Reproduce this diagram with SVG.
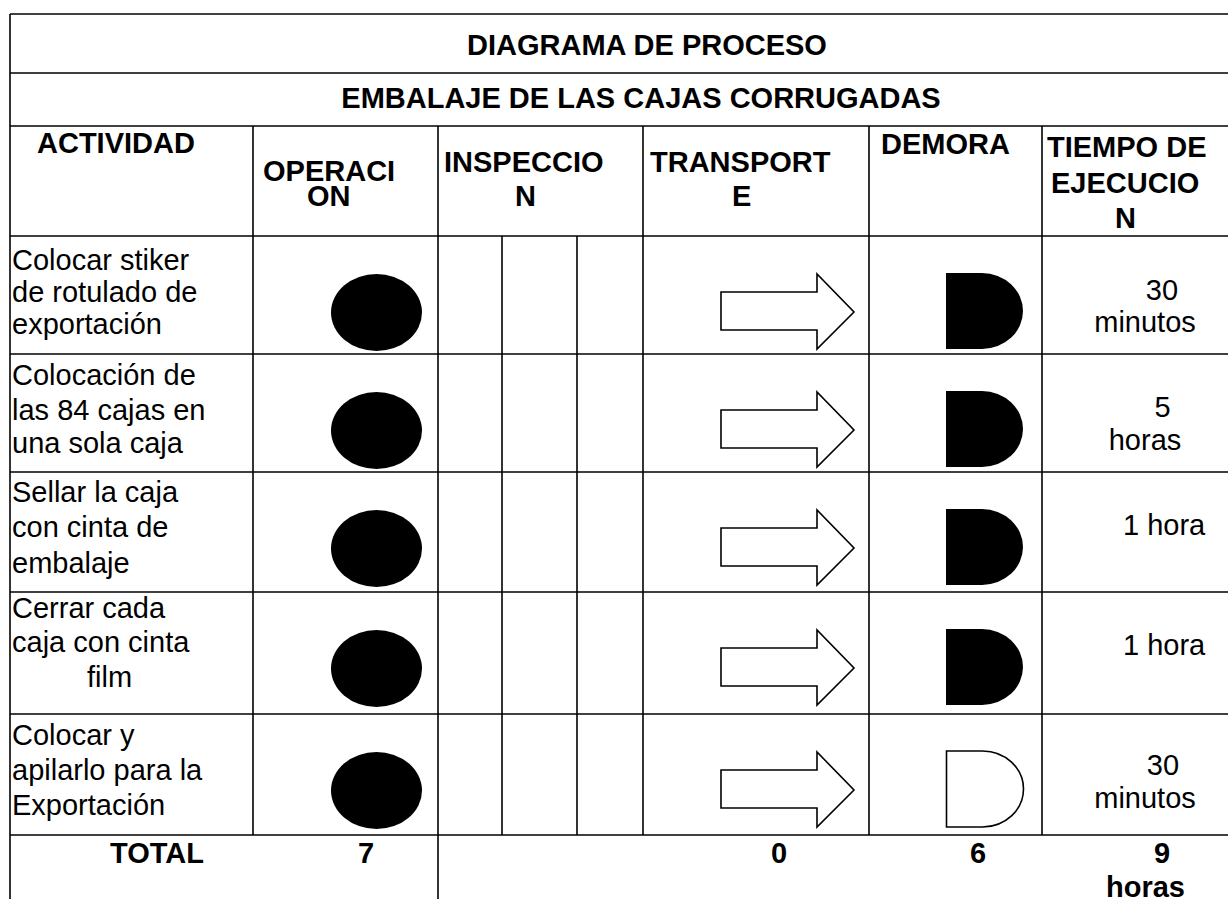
<svg xmlns="http://www.w3.org/2000/svg" width="1228" height="899" viewBox="0 0 1228 899">
<style>
  .ln { stroke:#000; stroke-width:1.6; fill:none; }
  .t { font-family:"Liberation Sans", Arial, sans-serif; font-size:29px; fill:#000; }
  .b { font-family:"Liberation Sans", Arial, sans-serif; font-size:29px; font-weight:bold; fill:#000; }
  .op { fill:#000; }
  .tr { fill:#fff; stroke:#000; stroke-width:1.6; stroke-linejoin:miter; }
  .dm { fill:#000; }
  .dmo { fill:#fff; stroke:#000; stroke-width:1.6; }
</style>
<defs>
  <ellipse id="opShape" cx="0" cy="0" rx="45.5" ry="38.5"/>
  <path id="trShape" d="M0,56 H96 V38 L133,76 L96,113 V94 H0 Z"/>
  <path id="dmShape" d="M0,37 H36 A41,38 0 0 1 36,113 H0 Z"/>
</defs>
<rect x="0" y="0" width="1228" height="899" fill="#fff"/>

<g id="grid">
  <line class="ln" x1="10" y1="14" x2="1228" y2="14"/>
  <line class="ln" x1="10" y1="73" x2="1228" y2="73"/>
  <line class="ln" x1="10" y1="126" x2="1228" y2="126"/>
  <line class="ln" x1="10" y1="236" x2="1228" y2="236"/>
  <line class="ln" x1="10" y1="354" x2="1228" y2="354"/>
  <line class="ln" x1="10" y1="472" x2="1228" y2="472"/>
  <line class="ln" x1="10" y1="592" x2="1228" y2="592"/>
  <line class="ln" x1="10" y1="714" x2="1228" y2="714"/>
  <line class="ln" x1="10" y1="835" x2="1228" y2="835"/>
  <line class="ln" x1="10" y1="14" x2="10" y2="899"/>
  <line class="ln" x1="253" y1="126" x2="253" y2="835"/>
  <line class="ln" x1="438" y1="126" x2="438" y2="899"/>
  <line class="ln" x1="502" y1="236" x2="502" y2="835"/>
  <line class="ln" x1="577" y1="236" x2="577" y2="835"/>
  <line class="ln" x1="643" y1="126" x2="643" y2="835"/>
  <line class="ln" x1="869" y1="126" x2="869" y2="835"/>
  <line class="ln" x1="1042" y1="126" x2="1042" y2="835"/>
</g>

<g id="header">
  <text class="b" x="647" y="55" text-anchor="middle">DIAGRAMA DE PROCESO</text>
  <text class="b" x="641" y="108" text-anchor="middle">EMBALAJE DE LAS CAJAS CORRUGADAS</text>
  <text class="b" x="37" y="153">ACTIVIDAD</text>
  <text class="b" x="263" y="181">OPERACI</text>
  <text class="b" x="307" y="206">ON</text>
  <text class="b" x="444" y="172">INSPECCIO</text>
  <text class="b" x="515" y="206">N</text>
  <text class="b" x="650" y="172">TRANSPORT</text>
  <text class="b" x="732" y="206">E</text>
  <text class="b" x="881" y="154">DEMORA</text>
  <text class="b" x="1047" y="157">TIEMPO DE</text>
  <text class="b" x="1051" y="193">EJECUCIO</text>
  <text class="b" x="1115" y="228">N</text>
</g>

<g id="row1">
  <text class="t" x="12" y="270">Colocar stiker</text>
  <text class="t" x="12" y="302">de rotulado de</text>
  <text class="t" x="12" y="334">exportación</text>
  <use href="#opShape" class="op" x="376.5" y="312.5"/>
  <use href="#trShape" class="tr" x="721" y="236"/>
  <use href="#dmShape" class="dm" x="946" y="236"/>
  <text class="t" x="1162" y="300" text-anchor="middle">30</text>
  <text class="t" x="1145" y="332" text-anchor="middle">minutos</text>
</g>

<g id="row2">
  <text class="t" x="12" y="385">Colocación de</text>
  <text class="t" x="12" y="420">las 84 cajas en</text>
  <text class="t" x="12" y="453">una sola caja</text>
  <use href="#opShape" class="op" x="376.5" y="430.5"/>
  <use href="#trShape" class="tr" x="721" y="354"/>
  <use href="#dmShape" class="dm" x="946" y="354"/>
  <text class="t" x="1162.5" y="417" text-anchor="middle">5</text>
  <text class="t" x="1145" y="450" text-anchor="middle">horas</text>
</g>

<g id="row3">
  <text class="t" x="12" y="502">Sellar la caja</text>
  <text class="t" x="12" y="537">con cinta de</text>
  <text class="t" x="12" y="573">embalaje</text>
  <use href="#opShape" class="op" x="376.5" y="548.5"/>
  <use href="#trShape" class="tr" x="721" y="472"/>
  <use href="#dmShape" class="dm" x="946" y="472"/>
  <text class="t" x="1123" y="535">1 hora</text>
</g>

<g id="row4">
  <text class="t" x="12" y="618">Cerrar cada</text>
  <text class="t" x="12" y="652">caja con cinta</text>
  <text class="t" x="87" y="687">film</text>
  <use href="#opShape" class="op" x="376.5" y="668.5"/>
  <use href="#trShape" class="tr" x="721" y="592"/>
  <use href="#dmShape" class="dm" x="946" y="592"/>
  <text class="t" x="1123" y="655">1 hora</text>
</g>

<g id="row5">
  <text class="t" x="12" y="745">Colocar y</text>
  <text class="t" x="12" y="780">apilarlo para la</text>
  <text class="t" x="12" y="815">Exportación</text>
  <use href="#opShape" class="op" x="376.5" y="790.5"/>
  <use href="#trShape" class="tr" x="721" y="714"/>
  <use href="#dmShape" class="dmo" x="946.5" y="714"/>
  <text class="t" x="1163" y="775" text-anchor="middle">30</text>
  <text class="t" x="1145" y="808" text-anchor="middle">minutos</text>
</g>

<g id="total">
  <text class="b" x="110" y="863">TOTAL</text>
  <text class="b" x="358" y="863">7</text>
  <text class="b" x="771" y="863">0</text>
  <text class="b" x="970" y="863">6</text>
  <text class="b" x="1154" y="863">9</text>
  <text class="b" x="1106" y="897">horas</text>
</g>
</svg>
